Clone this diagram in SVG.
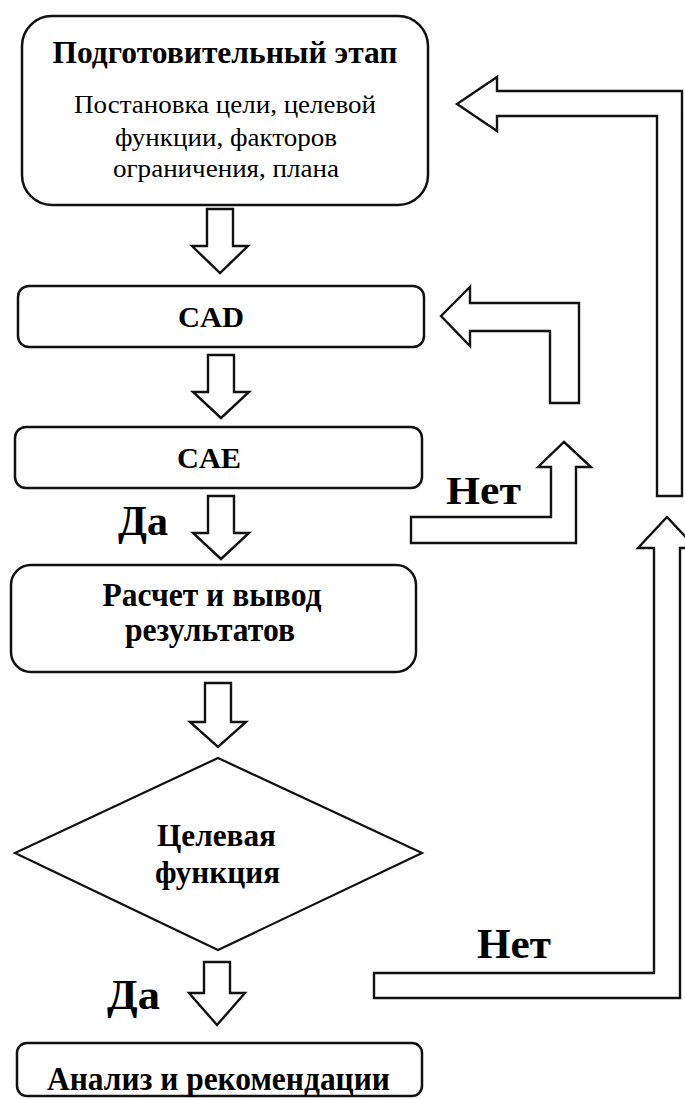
<svg xmlns="http://www.w3.org/2000/svg" width="685" height="1099" viewBox="0 0 685 1099">
<style>
.box{fill:#fff;stroke:#111;stroke-width:2.5}
.dia{fill:#fff;stroke:#111;stroke-width:2.2}
.arr{fill:#fff;stroke:#111;stroke-width:2.4;stroke-linejoin:miter}
.t{font-family:"Liberation Serif","Times New Roman",serif;fill:#000;text-anchor:middle}
.b{font-weight:bold}
</style>
<rect width="685" height="1099" fill="#fff"/>
<g id="connectors">
<path class="arr" d="M207,209 H233 V246 H248 L220,273 L192,246 H207 Z"/>
<path class="arr" d="M208,355 H234 V392 H249 L221,418 L193,392 H208 Z"/>
<path class="arr" d="M208,496 H234 V533 H249 L221,559 L193,533 H208 Z"/>
<path class="arr" d="M205,683 H231 V722 H246 L218,747 L190,722 H205 Z"/>
<path class="arr" d="M204,962 H230 V993 H245 L217,1025 L189,993 H204 Z"/>
<path class="arr" d="M441,316 L470,287 V303 H579 V403 H550 V331 H470 V346 Z"/>
<path class="arr" d="M411,517 H551 V467 H538 L564,442 L591,467 H576 V543 H411 Z"/>
<path class="arr" d="M457,104 L497,77 V91 H682 V496 H657 V116 H497 V131 Z"/>
<path class="arr" d="M374,973 H654 V548 H638 L667,517 L696,548 H680 V998 H374 Z"/>
</g>
<g id="prep">
<rect class="box" x="22" y="16" width="406" height="189" rx="30"/>
<text class="t b" x="225" y="63" font-size="32" textLength="345" lengthAdjust="spacingAndGlyphs">Подготовительный этап</text>
<text class="t" x="225" y="113" font-size="26" textLength="302" lengthAdjust="spacingAndGlyphs">Постановка цели, целевой</text>
<text class="t" x="226" y="146" font-size="26" textLength="222" lengthAdjust="spacingAndGlyphs">функции, факторов</text>
<text class="t" x="226" y="177" font-size="26" textLength="226" lengthAdjust="spacingAndGlyphs">ограничения, плана</text>
</g>
<g id="cad">
<rect class="box" x="18" y="286" width="406" height="61" rx="11"/>
<text class="t b" x="211" y="327" font-size="30" textLength="66" lengthAdjust="spacingAndGlyphs">CAD</text>
</g>
<g id="cae">
<rect class="box" x="15" y="427" width="407" height="61" rx="11"/>
<text class="t b" x="209" y="468" font-size="30" textLength="64" lengthAdjust="spacingAndGlyphs">CAE</text>
</g>
<g id="calc">
<rect class="box" x="11" y="565" width="405" height="107" rx="20"/>
<text class="t b" x="212" y="606" font-size="34" textLength="219" lengthAdjust="spacingAndGlyphs">Расчет и вывод</text>
<text class="t b" x="210" y="641" font-size="34" textLength="170" lengthAdjust="spacingAndGlyphs">результатов</text>
</g>
<g id="decision">
<polygon class="dia" points="218,758 422,853 218,950 15,853"/>
<text class="t b" x="216.5" y="846" font-size="32" textLength="119" lengthAdjust="spacingAndGlyphs">Целевая</text>
<text class="t b" x="217.5" y="883" font-size="32" textLength="125" lengthAdjust="spacingAndGlyphs">функция</text>
</g>
<g id="analysis">
<rect class="box" x="17" y="1043" width="405" height="53" rx="10"/>
<text class="t b" x="218.5" y="1090" font-size="34" textLength="343" lengthAdjust="spacingAndGlyphs">Анализ и рекомендации</text>
</g>
<g id="labels">
<text class="t b" x="143" y="535" font-size="42" textLength="50" lengthAdjust="spacingAndGlyphs">Да</text>
<text class="t b" x="483.5" y="504" font-size="40" textLength="75" lengthAdjust="spacingAndGlyphs">Нет</text>
<text class="t b" x="133.5" y="1009" font-size="42" textLength="53" lengthAdjust="spacingAndGlyphs">Да</text>
<text class="t b" x="514" y="958" font-size="42" textLength="74" lengthAdjust="spacingAndGlyphs">Нет</text>
</g>
</svg>
